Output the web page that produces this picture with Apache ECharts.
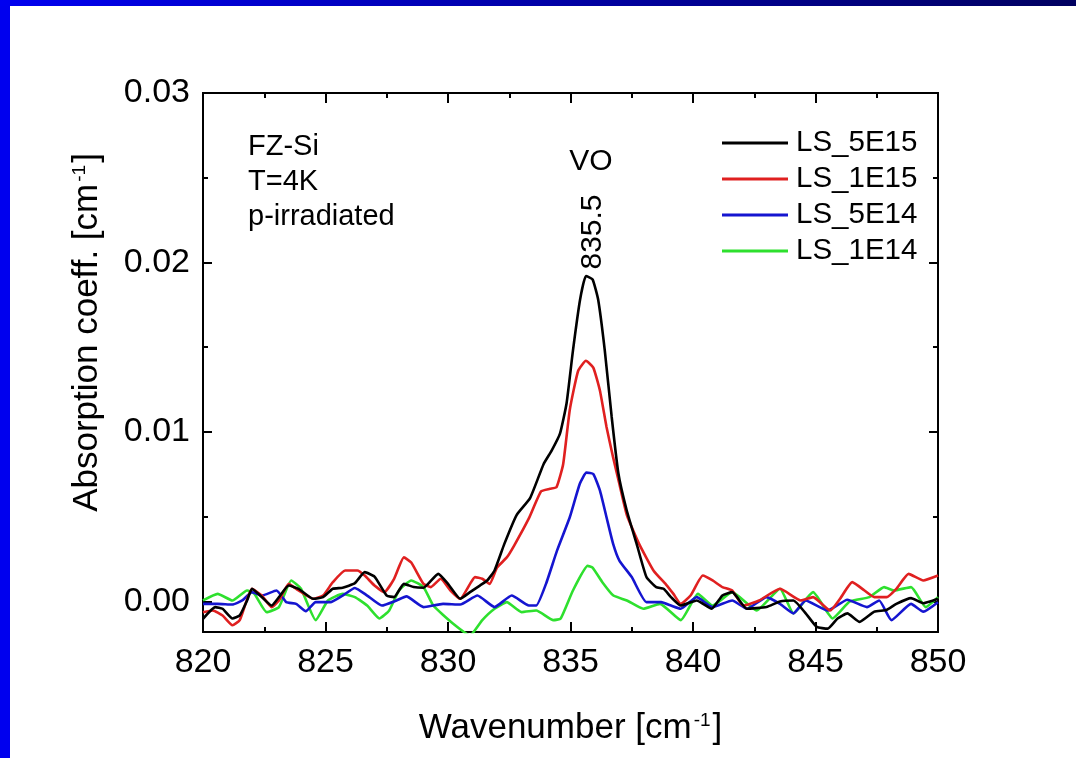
<!DOCTYPE html>
<html>
<head>
<meta charset="utf-8">
<script src="https://cdn.jsdelivr.net/npm/echarts@6/dist/echarts.min.js"></script>
<style>
html,body{margin:0;padding:0;background:#fff;}
#c{width:1076px;height:758px;}
</style>
</head>
<body>
<div id="c"></div>
<script>
// ---- data (wavenumber in cm^-1, absorption in units of 0.001 cm^-1) ----
var seriesNames = ['LS_5E15', 'LS_1E15', 'LS_5E14', 'LS_1E14'];
var seriesColors = ['#000000', '#e02020', '#1515d0', '#2ee02e'];

var xBlack = [820, 820.5, 820.8, 821.2, 821.5, 821.8, 822, 822.4, 822.8, 823.1, 823.5, 823.9, 824.5, 824.9, 825.3, 825.7, 826.2, 826.6, 827.0, 827.5, 827.8, 828.2, 828.6, 829.0, 829.6, 830, 830.5, 830.9, 831.3, 831.6, 831.9, 832.3, 832.8, 833.35, 833.9, 834.23, 834.57, 834.84, 835.1, 835.39, 835.63, 835.9, 836.13, 836.4, 836.68, 836.95, 837.29, 837.7, 838.1, 838.5, 838.8, 839.1, 839.5, 840.15, 840.76, 841.2, 841.6, 842.2, 843.0, 843.55, 844.1, 844.6, 845.05, 845.5, 845.9, 846.3, 846.8, 847.4, 847.9, 848.3, 848.9, 849.4, 850];
var yBlack = [-1.02, -0.33, -0.43, -1.0, -0.82, 0.06, 0.75, 0.26, -0.24, 0.26, 0.94, 0.75, 0.16, 0.26, 0.75, 0.81, 1.08, 1.73, 1.47, 0.35, 0.26, 1.04, 0.85, 0.81, 1.63, 1.04, 0.16, 0.55, 0.94, 1.24, 1.83, 3.4, 5.1, 6.1, 8.1, 8.9, 9.9, 11.7, 14.8, 17.8, 19.2, 19.0, 17.8, 14.8, 10.9, 7.6, 5.4, 3.4, 1.44, 0.85, 0.75, 0.26, -0.24, 0.06, -0.43, 0.35, 0.55, -0.43, -0.33, 0.0, 0.06, -0.7, -1.5, -1.6, -1.0, -0.7, -1.2, -0.6, -0.5, -0.14, 0.2, -0.1, 0.16];

var xRed = [820, 820.4, 820.8, 821.2, 821.5, 822.0, 822.4, 822.8, 823.1, 823.5, 823.9, 824.5, 824.9, 825.3, 825.8, 826.3, 826.6, 827.0, 827.4, 827.8, 828.2, 828.5, 829.0, 829.3, 829.7, 830.1, 830.5, 830.9, 831.1, 831.4, 831.7, 832.0, 832.4, 832.7, 833.3, 833.8, 834.16, 834.43, 834.7, 834.97, 835.31, 835.63, 835.93, 836.2, 836.47, 836.74, 837.0, 837.3, 837.8, 838.4, 838.9, 839.2, 839.5, 839.9, 840.4, 840.8, 841.2, 841.6, 842.05, 842.7, 843.55, 844.4, 844.9, 845.6, 846.0, 846.5, 847.0, 847.4, 847.9, 848.3, 848.8, 849.4, 850];
var yRed = [-0.63, -0.53, -0.83, -1.4, -1.1, 0.75, 0.35, -0.33, 0.06, 1.04, 0.65, 0.16, 0.35, 1.14, 1.83, 1.83, 1.53, 0.94, 0.55, 1.34, 2.6, 2.3, 1.04, 0.85, 1.34, 0.65, 0.16, 1.04, 1.44, 1.34, 1.04, 2.0, 2.6, 3.3, 4.9, 6.5, 6.65, 6.75, 8.1, 11.3, 13.6, 14.2, 13.8, 12.45, 10.3, 8.5, 6.9, 5.1, 3.4, 1.8, 1.0, 0.45, -0.14, 0.35, 1.53, 1.24, 0.85, 0.65, -0.24, 0.06, 0.75, 0.06, 0.26, -0.53, 0.16, 1.14, 0.65, 0.26, 0.26, 0.75, 1.63, 1.24, 1.53];

var xBlue = [820, 820.6, 821.2, 821.6, 822, 822.4, 823.0, 823.4, 823.8, 824.2, 824.6, 825.2, 825.7, 826.2, 826.7, 827.3, 827.9, 828.3, 829.0, 829.8, 830.5, 831.2, 831.9, 832.6, 833.3, 833.6, 834.0, 834.45, 834.97, 835.38, 835.65, 835.93, 836.2, 836.47, 836.74, 837.0, 837.5, 838.1, 838.7, 839.1, 839.5, 840.15, 840.8, 841.6, 842.2, 843.0, 843.55, 844.1, 844.6, 845.5, 846.3, 847.1, 847.6, 848.1, 848.9, 849.4, 850];
var yBlue = [-0.14, -0.14, -0.18, 0.06, 0.55, 0.35, 0.65, -0.04, -0.14, -0.57, -0.04, -0.04, 0.35, 0.8, 0.35, -0.24, 0.06, 0.3, -0.33, -0.14, -0.18, 0.35, -0.33, 0.35, -0.24, -0.24, 1.04, 3.0, 4.97, 6.95, 7.6, 7.52, 6.55, 4.97, 3.4, 2.4, 1.44, -0.04, -0.04, -0.24, -0.43, 0.26, -0.33, 0.06, -0.43, 0.26, -0.14, -0.7, 0.06, -0.53, 0.1, -0.33, 0.06, -1.1, -0.14, -0.6, -0.04];

var xGreen = [820, 820.6, 821.2, 821.8, 822.1, 822.6, 823.1, 823.6, 824.0, 824.6, 825.1, 825.7, 826.2, 826.7, 827.2, 827.6, 828.0, 828.5, 829.0, 829.4, 830.2, 830.9, 831.4, 831.9, 832.4, 833.0, 833.6, 834.3, 834.6, 835.1, 835.7, 835.9, 836.3, 836.75, 837.3, 837.97, 838.65, 839.5, 840.2, 840.8, 841.6, 842.6, 843.55, 844.1, 844.9, 845.7, 846.4, 847.2, 847.8, 848.2, 848.9, 849.5, 850];
var yGreen = [0.06, 0.45, 0.06, 0.65, 0.45, -0.63, -0.33, 1.24, 0.75, -1.1, 0.06, 0.45, 0.26, -0.24, -1.0, -0.53, 0.65, 1.24, 0.85, -0.24, -1.3, -2.0, -1.1, -0.43, -0.04, -0.63, -0.53, -1.1, -1.0, 0.65, 2.1, 2.0, 1.14, 0.35, 0.06, -0.43, -0.14, -1.1, 0.45, -0.24, 0.55, -0.53, 0.75, -0.7, 0.55, -1.0, 0.0, 0.26, 0.85, 0.65, 0.85, -0.33, 0.26];

var xTicks = [820, 825, 830, 835, 840, 845, 850];
var yMajorTicks = [0.00, 0.01, 0.02, 0.03];
var yMinorTicks = [0.005, 0.015, 0.025];
var yMin = -0.0018, yMax = 0.03;
var infoLines = ['FZ-Si', 'T=4K', 'p-irradiated'];
var peakName = 'VO';
var peakPos = '835.5';

// ---- build ----
var xs = [xBlack, xRed, xBlue, xGreen];
var ys = [yBlack, yRed, yBlue, yGreen];
function pairs(x, y) { return x.map(function (v, i) { return [v, y[i] / 1000]; }); }

var FONT = 'Liberation Sans, Arial, sans-serif';
var chart = echarts.init(document.getElementById('c'), null, { renderer: 'canvas' });

function yAx(pos, ticks, len, labels, extra) {
  var a = {
    type: 'value', position: pos, min: yMin, max: yMax, scale: true,
    axisLine: { show: true, onZero: false, lineStyle: { color: '#000', width: 2 } },
    axisTick: { show: true, inside: true, length: len, customValues: ticks, lineStyle: { color: '#000', width: 2 } },
    axisLabel: { show: labels, customValues: ticks, margin: 13, fontSize: 34, color: '#000', fontFamily: FONT,
      formatter: function (v) { return v.toFixed(2); } },
    splitLine: { show: false }
  };
  return Object.assign(a, extra || {});
}
function xAx(pos, labels, extra) {
  var a = {
    type: 'value', position: pos, min: xTicks[0], max: xTicks[xTicks.length - 1], interval: 5,
    axisLine: { show: true, onZero: false, lineStyle: { color: '#000', width: 2 } },
    axisTick: { show: true, inside: true, length: 10, lineStyle: { color: '#000', width: 2 } },
    minorTick: { show: true, splitNumber: 2, length: 5, lineStyle: { color: '#000', width: 2 } },
    axisLabel: { show: labels, margin: 14, fontSize: 34, color: '#000', fontFamily: FONT },
    splitLine: { show: false }, minorSplitLine: { show: false }
  };
  return Object.assign(a, extra || {});
}

var titleRich = { sup: { fontSize: 19, verticalAlign: 'top', color: '#000', fontFamily: FONT, padding: [0, 2, 16, 2] } };

var option = {
  backgroundColor: '#fff',
  animation: false,
  grid: { left: 203, right: 138, top: 93, bottom: 126, containLabel: false },
  xAxis: [
    xAx('bottom', true, {
      name: 'Wavenumber [cm{sup|-1}]', nameLocation: 'middle', nameGap: 79,
      nameTextStyle: { fontSize: 35, color: '#000', fontFamily: FONT, rich: titleRich }
    }),
    xAx('top', false)
  ],
  yAxis: [
    yAx('left', yMajorTicks, 9, true, {
      name: 'Absorption coeff. [cm{sup|-1}]', nameLocation: 'middle', nameGap: 98, nameRotate: 90,
      nameTextStyle: { fontSize: 35, color: '#000', fontFamily: FONT, rich: titleRich, padding: [0, 0, 0, 60] }
    }),
    yAx('left', yMinorTicks, 5, false),
    yAx('right', yMajorTicks, 9, false),
    yAx('right', yMinorTicks, 5, false)
  ],
  legend: {
    orient: 'vertical', left: 722, top: 128, padding: 0, itemWidth: 66, itemHeight: 3, itemGap: 6,
    icon: 'rect', data: seriesNames,
    textStyle: { fontSize: 29.5, color: '#000', fontFamily: FONT, padding: [0, 0, 0, 3] }
  },
  series: seriesNames.map(function (n, i) {
    return {
      name: n, type: 'line', xAxisIndex: 0, yAxisIndex: 0,
      data: pairs(xs[i], ys[i]), showSymbol: false, smooth: 0.15,
      lineStyle: { color: seriesColors[i], width: 2.6 }, itemStyle: { color: seriesColors[i] },
      z: 10 - i
    };
  }),
  graphic: [
    { type: 'rect', shape: { x: 0, y: 0, width: 10, height: 758 }, style: { fill: '#0000ee' }, silent: true },
    { type: 'rect', shape: { x: 0, y: 0, width: 1076, height: 6 }, silent: true,
      style: { fill: new echarts.graphic.LinearGradient(0, 0, 1, 0, [{ offset: 0, color: '#0000f0' }, { offset: 1, color: '#000060' }]) } },
    { type: 'text', left: 248, top: 129, style: { text: infoLines.join('\n'), fontSize: 29, lineHeight: 35, fill: '#000', fontFamily: FONT } },
    { type: 'text', x: 591, y: 162, style: { text: peakName, fontSize: 30, fill: '#000', fontFamily: FONT, textAlign: 'center', textVerticalAlign: 'middle' } },
    { type: 'text', x: 593, y: 232, rotation: Math.PI / 2, style: { text: peakPos, fontSize: 30, fill: '#000', fontFamily: FONT, textAlign: 'center', textVerticalAlign: 'middle' } }
  ]
};
chart.setOption(option);
</script>
</body>
</html>
